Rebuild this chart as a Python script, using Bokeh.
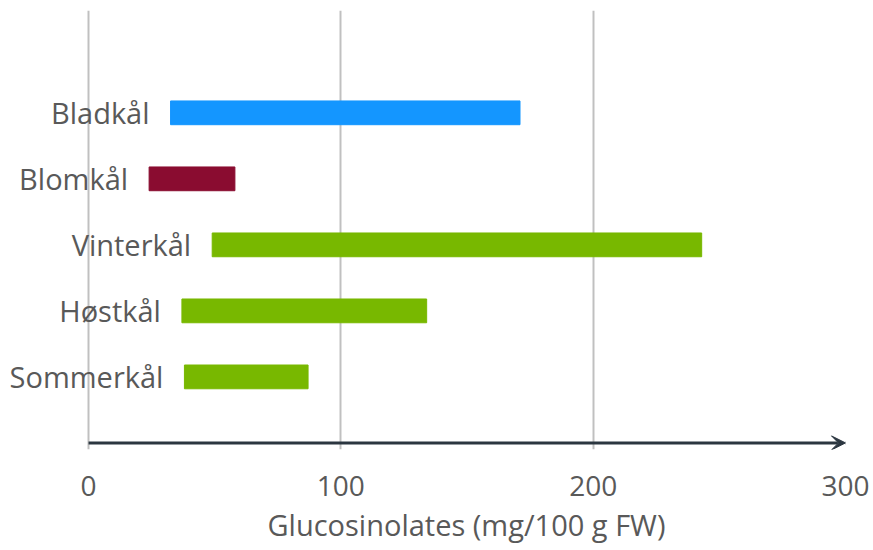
from bokeh.plotting import figure
from bokeh.models import Range1d, FixedTicker, Arrow, VeeHead, ColumnDataSource, LabelSet, Title
from bokeh.core.properties import value
from bokeh.embed import file_html
from bokeh.resources import INLINE

categories = ["Sommerkål", "Høstkål", "Vinterkål", "Blomkål", "Bladkål"]
low_values = [38, 37, 49, 24, 32.5]
high_values = [87, 134, 243, 58, 171]
bar_colors = ["#78b800", "#78b800", "#78b800", "#8a0c30", "#1496ff"]
x_ticks = [0, 100, 200, 300]
x_title = "Glucosinolates (mg/100 g FW)"

ypos = list(range(1, len(categories) + 1))
src = ColumnDataSource(dict(y=ypos, left=low_values, right=high_values,
                            color=bar_colors, name=categories))

FONT = "Open Sans"
p = figure(width=873, height=550, output_backend="svg", toolbar_location=None,
           x_range=Range1d(-34.9, 300), y_range=Range1d(-0.1, 6.55),
           min_border_left=0, min_border_right=28, min_border_top=10,
           min_border_bottom=101)
p.outline_line_color = None
p.background_fill_color = "white"

p.hbar(y="y", left="left", right="right", height=0.36, color="color",
       source=src)

p.add_layout(LabelSet(x="left", y="y", text="name", source=src, x_offset=-21,
                      text_align="right", text_baseline="middle",
                      text_font=value(FONT), text_font_size="29px",
                      text_color="#595959"))

p.yaxis.visible = False
p.ygrid.grid_line_color = None
p.xaxis.ticker = FixedTicker(ticks=x_ticks)
p.xaxis.minor_tick_line_color = None
p.xaxis.major_tick_line_color = None
p.xaxis.axis_line_color = None
p.xaxis.major_label_text_font = FONT
p.xaxis.major_label_text_font_size = "28px"
p.xaxis.major_label_text_color = "#595959"
p.xaxis.major_label_standoff = 20
p.xgrid.ticker = FixedTicker(ticks=x_ticks)
p.xgrid.grid_line_color = "#c0c0c0"
p.xgrid.grid_line_width = 2

p.add_layout(Title(text=x_title, align="left", offset=267,
                   text_font=FONT, text_font_size="29px",
                   text_font_style="normal", text_color="#595959",
                   standoff=9), "below")

p.add_layout(Arrow(x_start=0, y_start=0, x_end=300, y_end=0,
                   line_color="#2b3640", line_width=3,
                   end=VeeHead(size=14, fill_color="#2b3640",
                               line_color="#2b3640")))

open("out.html", "w").write(file_html(p, INLINE))
